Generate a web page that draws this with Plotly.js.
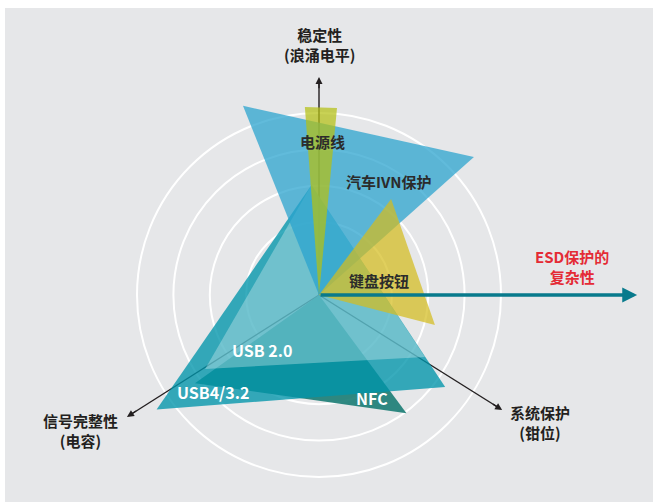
<!DOCTYPE html>
<html>
<head>
<meta charset="utf-8">
<script src="https://cdn.plot.ly/plotly-3.0.1.min.js"></script>
<style>
  html, body { margin: 0; padding: 0; background: #ffffff; overflow: hidden; }
  #chart { width: 653px; height: 502px; }
</style>
</head>
<body>
<div id="chart"></div>
<script>
// ---------- data (angle in degrees, radius in ring units) ----------
const categories = ['NFC', 'USB4/3.2', 'USB 2.0', '汽车IVN保护', '键盘按钮', '电源线'];

const nfcTheta   = [0, 215.4, 306.5];
const nfcR       = [0, 4.18, 4.04];

const usb4Theta  = [93.9, 215.2, 323.9];
const usb4R      = [3.03, 5.46, 4.29];

const usb2Theta  = [93.9, 213.0, 329.7];
const usb2R      = [3.03, 3.73, 3.37];

const ivnTheta   = [0, 111.9, 41.7];
const ivnR       = [0, 5.60, 5.70];

const keyTheta   = [0, 53.1, -14.5];
const keyR       = [0, 3.30, 3.29];

const powerTheta = [0, 94.3, 84.5];
const powerR     = [0, 5.18, 5.16];

const ringRadii  = [2, 3, 4, 5];

const axisNames  = ['稳定性<br>(浪涌电平)', 'ESD保护的<br>复杂性', '信号完整性<br>(电容)', '系统保护<br>(钳位)'];
const axisTheta  = [90, 0, 212.4, 327.9];
const axisLength = [5.99, 8.74, 6.25, 5.94];

// ---------- helpers ----------
const U = 36.4, CX = 319, CY = 295, W = 653, H = 502;
const px = x => (x - CX) / U;
const py = y => (CY - y) / U;
const rad = d => d * Math.PI / 180;
const toX = (th, r) => th.map((t, i) => r[i] * Math.cos(rad(t)));
const toY = (th, r) => th.map((t, i) => r[i] * Math.sin(rad(t)));

const FONT = '"Noto Sans CJK SC", "Noto Sans", sans-serif';
const DARK = '#231f20';

function poly(th, r, color) {
  return { type: 'scatter', mode: 'none', fill: 'toself', fillcolor: color,
           x: toX(th, r), y: toY(th, r), hoverinfo: 'skip', showlegend: false };
}

// dark axis lines (drawn beneath the shapes)
const axX = [], axY = [];
[0, 2, 3].forEach(i => {
  const L = axisLength[i] - 0.15;
  axX.push(0, L * Math.cos(rad(axisTheta[i])), null);
  axY.push(0, L * Math.sin(rad(axisTheta[i])), null);
});

const traces = [
  { type: 'scatter', mode: 'lines', x: axX, y: axY, line: { color: DARK, width: 1.4 },
    hoverinfo: 'skip', showlegend: false },
  poly(nfcTheta, nfcR, 'rgba(26,124,116,0.9)'),
  poly(usb4Theta, usb4R, 'rgba(0,149,171,0.78)'),
  poly(usb2Theta, usb2R, 'rgba(255,255,255,0.3)'),
  poly(ivnTheta, ivnR, 'rgba(42,163,206,0.74)'),
  poly(keyTheta, keyR, 'rgba(212,188,30,0.72)'),
  poly(powerTheta, powerR, 'rgba(180,192,20,0.72)')
];

// ---------- shapes ----------
const shapes = [
  { type: 'rect', xref: 'paper', yref: 'paper', x0: 5 / W, x1: 1, y0: 0, y1: 1 - 8 / H,
    fillcolor: '#e6e7e9', line: { width: 0 }, layer: 'below' }
];
ringRadii.forEach(r => shapes.push({
  type: 'circle', xref: 'x', yref: 'y', x0: -r, y0: -r, x1: r, y1: r,
  line: { color: '#ffffff', width: 2 }, layer: 'below'
}));

// ---------- annotations ----------
const annotations = [];
// arrow heads for dark axes
[0, 2, 3].forEach(i => {
  const c = Math.cos(rad(axisTheta[i])), s = Math.sin(rad(axisTheta[i]));
  const L = axisLength[i];
  annotations.push({ x: L * c, y: L * s, ax: (L - 0.35) * c, ay: (L - 0.35) * s,
    xref: 'x', yref: 'y', axref: 'x', ayref: 'y', text: '', showarrow: true,
    arrowhead: 2, arrowsize: 1, arrowwidth: 1.4, arrowcolor: DARK, standoff: 0 });
});
// ESD arrow (on top)
annotations.push({ x: axisLength[1], y: 0, ax: 0, ay: 0,
  xref: 'x', yref: 'y', axref: 'x', ayref: 'y', text: '', showarrow: true,
  arrowhead: 2, arrowsize: 0.85, arrowwidth: 3.5, arrowcolor: '#087a8c', standoff: 0 });

function lab(text, x, y, color, size) {
  annotations.push({ text: text, x: px(x), y: py(y), xref: 'x', yref: 'y', showarrow: false,
    xanchor: 'center', yanchor: 'middle', align: 'center',
    font: { family: FONT, size: size || 15, color: color, weight: 'bold' } });
}
lab(axisNames[0], 319.7, 44, DARK);
lab(axisNames[1], 572, 266.5, '#e42b35');
lab(axisNames[2], 80.5, 430.7, DARK);
lab(axisNames[3], 540, 422.3, DARK);

lab(categories[5], 322, 141.7, '#2b2b2b');
lab(categories[3], 388.8, 181.7, '#2b2b2b');
lab(categories[4], 379, 280, '#2b2b2b');
lab(categories[2], 261.7, 350, '#ffffff', 16);
lab(categories[1], 212.5, 391.7, '#ffffff', 16);
lab(categories[0], 371.7, 398.3, '#ffffff', 16);

const layout = {
  width: W, height: H,
  margin: { l: 0, r: 0, t: 0, b: 0, pad: 0 },
  paper_bgcolor: '#ffffff', plot_bgcolor: 'rgba(0,0,0,0)',
  showlegend: false, hovermode: false,
  xaxis: { range: [px(0), px(W)], visible: false, fixedrange: true },
  yaxis: { range: [py(H), py(0)], visible: false, fixedrange: true },
  shapes: shapes, annotations: annotations
};

Plotly.newPlot('chart', traces, layout, { displayModeBar: false, staticPlot: true });
</script>
</body>
</html>
